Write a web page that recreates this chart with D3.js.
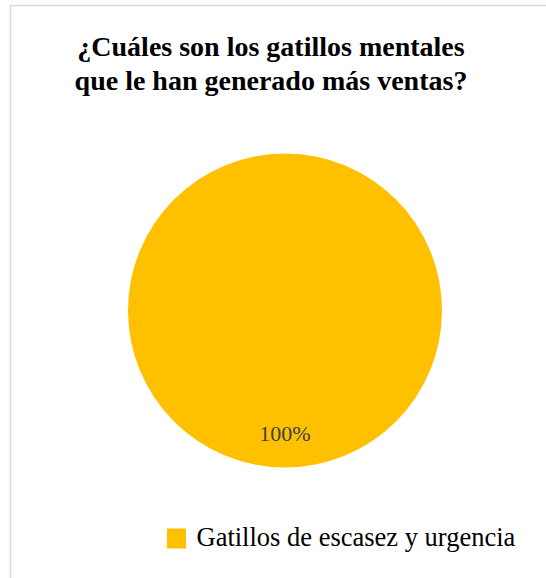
<!DOCTYPE html>
<html>
<head>
<meta charset="utf-8">
<script src="https://cdn.jsdelivr.net/npm/d3@7"></script>
<style>
  html, body { margin: 0; padding: 0; background: #ffffff; }
  svg { display: block; }
</style>
</head>
<body>
<svg id="chart" width="546" height="578"></svg>
<script>
// Chart data
const categories = ["Gatillos de escasez y urgencia"];
const values = [100];
const colors = ["#FFC000"];
const titleLines = ["¿Cuáles son los gatillos mentales", "que le han generado más ventas?"];

const svg = d3.select("#chart");
const serif = "'Liberation Serif', 'Times New Roman', serif";

// Chart frame (continues past the right and bottom edges)
svg.append("rect")
  .attr("x", 10.5).attr("y", 5.5)
  .attr("width", 560).attr("height", 600)
  .attr("fill", "#ffffff")
  .attr("stroke", "#d9d9d9")
  .attr("stroke-width", 1.5);

// Title
svg.append("g")
  .selectAll("text")
  .data(titleLines)
  .join("text")
  .attr("x", 271)
  .attr("y", (d, i) => 55.5 + i * 34)
  .attr("text-anchor", "middle")
  .style("font-family", serif)
  .style("font-weight", "bold")
  .style("font-size", "28px")
  .attr("fill", "#000000")
  .text(d => d);

// Pie
const cx = 285, cy = 310.5, r = 157;
const total = d3.sum(values);
const color = d3.scaleOrdinal().domain(categories).range(colors);
const pie = d3.pie().sort(null).value(d => d.value);
const slices = pie(categories.map((c, i) => ({ category: c, value: values[i] })));
const arc = d3.arc().innerRadius(0).outerRadius(r);
const labelArc = d3.arc().innerRadius(r * 0.785).outerRadius(r * 0.785);

const g = svg.append("g").attr("transform", `translate(${cx},${cy})`);
g.selectAll("path")
  .data(slices)
  .join("path")
  .attr("d", arc)
  .attr("fill", d => color(d.data.category));

g.selectAll("text.val")
  .data(slices)
  .join("text")
  .attr("class", "val")
  .attr("transform", d => `translate(${labelArc.centroid(d)})`)
  .attr("text-anchor", "middle")
  .attr("dominant-baseline", "central")
  .style("font-family", serif)
  .style("font-size", "22px")
  .attr("fill", "#404040")
  .text(d => d3.format(".0f")(d.data.value / total * 100) + "%");

// Legend
const legend = svg.append("g").attr("transform", "translate(167,528.5)");
const items = legend.selectAll("g")
  .data(categories)
  .join("g");
items.append("rect")
  .attr("x", 0).attr("y", 0)
  .attr("width", 19).attr("height", 20)
  .attr("fill", d => color(d));
items.append("text")
  .attr("x", 29.5)
  .attr("y", 17)
  .style("font-family", serif)
  .style("font-size", "26.5px")
  .attr("fill", "#000000")
  .text(d => d);
</script>
</body>
</html>
